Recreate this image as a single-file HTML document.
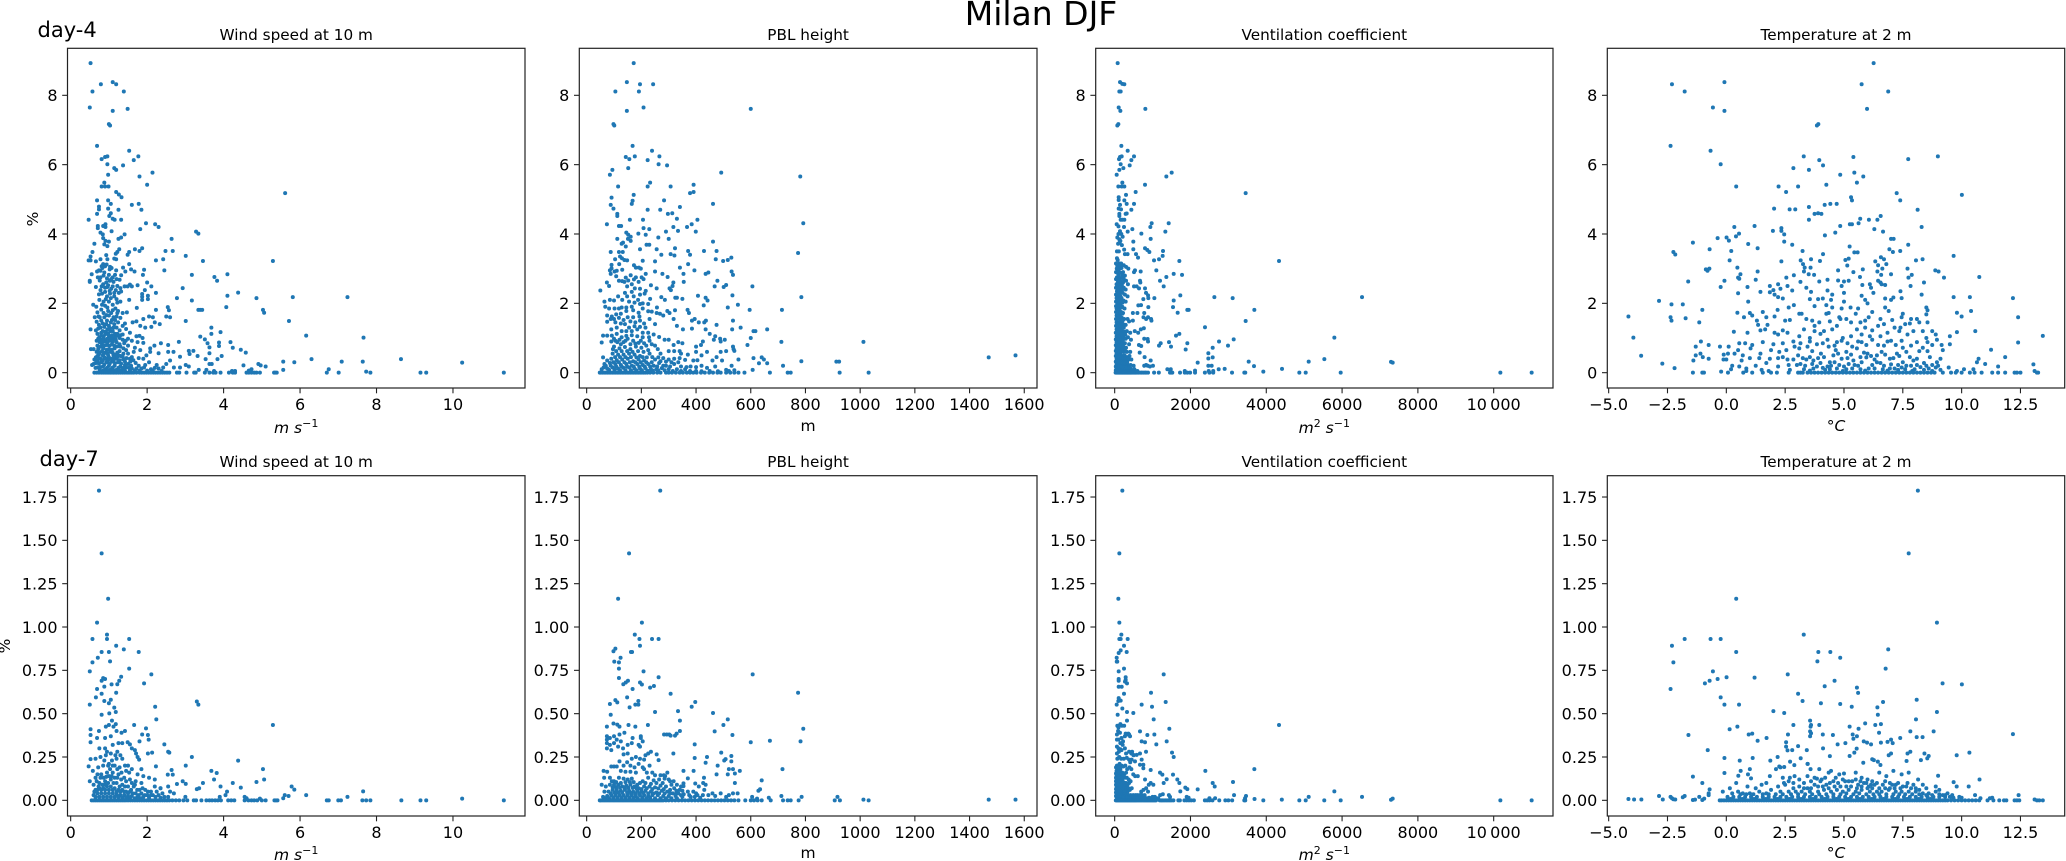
<!DOCTYPE html>
<html lang="en">
<head>
<meta charset="utf-8">
<title>Milan DJF</title>
<style>
html,body{margin:0;padding:0;background:#fff;overflow:hidden}
svg{display:block}
text{font-family:"DejaVu Sans","Liberation Sans",sans-serif;fill:#000}
.t{font-size:15.25px;text-anchor:middle}
.tick{font-size:16px}
.xl{font-size:15.5px;text-anchor:middle}
.it{font-style:italic}
</style>
</head>
<body>
<svg id="figure" xmlns="http://www.w3.org/2000/svg" width="2066" height="861" viewBox="0 0 2066 861">
<rect width="2066" height="861" fill="#fff"/>
<text x="1041" y="25" font-size="33" text-anchor="middle" fill="#1a1a1a">Milan DJF</text>
<text x="37.5" y="37" font-size="21">day-4</text>
<text x="39.5" y="466" font-size="21">day-7</text>
<text class="xl" transform="translate(38,219) rotate(-90)">%</text>
<text class="xl" transform="translate(10,646) rotate(-90)">%</text>
<text class="t" x="296.2" y="40">Wind speed at 10 m</text>
<text class="t" x="808.1" y="40">PBL height</text>
<text class="t" x="1324.3" y="40">Ventilation coefficient</text>
<text class="t" x="1836" y="40">Temperature at 2 m</text>
<text class="t" x="296.2" y="467">Wind speed at 10 m</text>
<text class="t" x="808.1" y="467">PBL height</text>
<text class="t" x="1324.3" y="467">Ventilation coefficient</text>
<text class="t" x="1836" y="467">Temperature at 2 m</text>
<text class="xl" x="296.2" y="433"><tspan class="it">m s</tspan><tspan font-size="11" dy="-6">−1</tspan></text>
<text class="xl" x="808.1" y="431">m</text>
<text class="xl" x="1324.3" y="433"><tspan class="it">m</tspan><tspan font-size="11" dy="-6">2</tspan><tspan class="it" dy="6"> s</tspan><tspan font-size="11" dy="-6">−1</tspan></text>
<text class="xl" x="1836" y="431">°<tspan class="it">C</tspan></text>
<text class="xl" x="296.2" y="860"><tspan class="it">m s</tspan><tspan font-size="11" dy="-6">−1</tspan></text>
<text class="xl" x="808.1" y="858">m</text>
<text class="xl" x="1324.3" y="860"><tspan class="it">m</tspan><tspan font-size="11" dy="-6">2</tspan><tspan class="it" dy="6"> s</tspan><tspan font-size="11" dy="-6">−1</tspan></text>
<text class="xl" x="1836" y="858">°<tspan class="it">C</tspan></text>
</svg>
<script>
// Tick values
const windTicks=[0,2,4,6,8,10];
const pblTicks=[0,200,400,600,800,1000,1200,1400,1600];
const ventTicks=[0,2000,4000,6000,8000,10000];
const tempTicks=[-5,-2.5,0,2.5,5,7.5,10,12.5];
const day4Ticks=[0,2,4,6,8];
const day7Ticks=[0,0.25,0.5,0.75,1,1.25,1.5,1.75];

// Points: [x, percent]
const windDay4=[[.52,8.93],[.57,8.11],[.79,8.32],[1.1,8.38],[1.19,8.32],[1.39,8.11],[.5,7.65],[1.1,7.55],[1.49,7.61],[1,7.17],[1.03,7.13],[.69,6.54],[1.53,6.4],[1.77,6.24],[1.65,6.13],[.96,6.24],[.9,6.22],[.81,6.16],[.96,6.01],[1.37,5.98],[1.14,5.9],[1.19,5.85],[.98,5.71],[1.8,5.66],[2.14,5.77],[2,5.42],[.88,5.48],[.81,5.37],[.9,5.37],[.99,5.37],[5.61,5.18],[1.19,5.21],[1.26,5.14],[1.33,5.06],[.69,4.97],[.98,4.97],[1.05,4.87],[1.6,4.84],[1.78,4.87],[.74,4.79],[.74,4.71],[.98,4.73],[1.25,4.7],[1.85,4.7],[.69,4.58],[1.05,4.6],[1.01,4.52],[.47,4.41],[1.1,4.44],[1.15,4.41],[1.32,4.41],[1.97,4.31],[2.21,4.28],[2.3,4.2],[.71,4.23],[.71,4.17],[.85,4.23],[.91,4.28],[.91,4.2],[1.82,4.14],[1.07,4.08],[3.28,4.07],[3.34,4.01],[.78,4.04],[.84,3.99],[1.41,3.99],[1.32,3.9],[1.25,3.86],[2.64,3.86],[.85,3.88],[.91,3.8],[1,3.78],[.62,3.72],[.88,3.7],[.96,3.65],[1.68,3.56],[1.87,3.59],[1.8,3.51],[1.27,3.56],[1.22,3.48],[1.18,3.43],[2.48,3.51],[2.67,3.51],[1.53,3.48],[1.49,3.4],[.57,3.48],[.93,3.39],[3.01,3.37],[.52,3.35],[.47,3.24],[.52,3.24],[.78,3.27],[.96,3.27],[1.14,3.29],[1.19,3.27],[2.42,3.27],[2.23,3.24],[3.46,3.22],[5.29,3.22],[.66,3.21],[1.53,3.13],[.85,3.13],[.81,3.07],[.9,3.07],[1.03,3.05],[1.07,3.02],[1.37,3.03],[1.58,2.98],[1.92,2.97],[2.45,2.95],[1.43,2.92],[1.67,2.92],[1.19,2.95],[.69,2.92],[.78,2.94],[.88,2.89],[.55,2.84],[3.17,2.82],[1.89,2.82],[4.1,2.84],[1.32,2.81],[.71,2.75],[.78,2.75],[1,2.82],[1.1,2.75],[.5,2.65],[.5,2.62],[3.76,2.76],[3.83,2.65],[2,2.6],[2.11,2.49],[1.55,2.54],[1.49,2.49],[1.41,2.49],[1.6,2.49],[1.75,2.52],[.66,2.47],[.81,2.49],[.96,2.47],[1.1,2.49],[2.93,2.44],[1.94,2.38],[2.23,2.3],[.74,2.26],[4.38,2.31],[4.1,2.22],[1.87,2.27],[2.02,2.22],[1.87,2.19],[1.87,2.1],[2.02,2.12],[2.78,2.15],[4.86,2.15],[5.81,2.18],[7.24,2.18],[1.53,2.1],[3.17,2.08],[.59,1.96],[.67,1.9],[2.54,1.89],[4.07,1.89],[1.73,1.87],[2.57,1.8],[2.23,1.81],[3.34,1.81],[3.39,1.81],[3.44,1.81],[5.03,1.81],[5.06,1.73],[1.24,1.78],[1.02,2.65],[1.12,2.62],[1.2,2.7],[1.28,2.68],[.93,2.6],[.85,2.55],[.98,2.52],[1.06,2.42],[1.18,2.38],[1.26,2.3],[1.32,2.34],[.9,2.33],[.82,2.28],[.95,2.2],[1.03,2.28],[1.14,2.2],[1.2,2.12],[1.3,2.05],[.75,2.1],[.86,2.05],[1,2.05],[1.1,1.96],[.9,1.93],[.8,1.82],[.7,1.74],[.98,1.78],[1.1,1.8],[1.22,1.72],[1.36,1.72],[1.47,1.74],[.63,1.6],[.76,1.6],[.88,1.6],[1,1.65],[1.12,1.6],[1.3,1.58],[2.5,1.62],[2.6,1.6],[2.15,1.6],[2.05,1.62],[1.9,1.55],[.68,1.47],[.8,1.5],[.95,1.5],[1.08,1.52],[1.24,1.45],[1.42,1.42],[1.62,1.45],[1.72,1.48],[2.2,1.45],[2.33,1.4],[2.11,1.32],[3.01,1.49],[1.95,1.3],[1.82,1.35],[.52,1.25],[.66,1.22],[.78,1.3],[.88,1.32],[1,1.35],[1.12,1.3],[1.28,1.22],[1.45,1.26],[1.55,1.15],[.7,1.12],[.8,1.15],[.92,1.18],[1.04,1.2],[1.16,1.12],[1.36,1.1],[1.72,1.05],[1.8,1.06],[1.88,1],[.75,1.02],[.86,1.04],[1,1.06],[1.1,.98],[1.28,1],[1.5,.98],[1.6,.92],[1.75,.88],[1.9,.86],[.68,.92],[.8,.95],[.9,.9],[1.02,.92],[1.2,.88],[1.4,.85],[.7,.78],[.82,.82],[.95,.8],[1.08,.82],[1.3,.75],[1.5,.78],[1.68,.72],[.53,.68],[.6,.68],[.72,.68],[.85,.7],[1,.68],[1.15,.7],[1.45,.65],[1.65,.6],[1.82,.65],[.76,.58],[.9,.58],[1.03,.6],[1.22,.58],[1.5,.55],[1.98,.5],[2.08,.6],[.7,.48],[.84,.5],[.98,.5],[1.12,.5],[1.3,.48],[1.6,.45],[1.78,.42],[1.9,.4],[.62,.38],[.78,.4],[.92,.4],[1.06,.4],[1.2,.4],[1.38,.38],[.56,.22],[.66,.28],[.8,.3],[.94,.3],[1.08,.32],[1.24,.3],[1.5,.25],[1.7,.28],[2.05,.3],[2.25,.22],[2.5,.25],[2.6,.35],[.7,.15],[.85,.18],[1,.2],[1.15,.2],[1.3,.18],[1.45,.15],[1.6,.12],[1.85,.12],[2.1,.1],[2.3,.12],[2.7,.15],[.9,.08],[1.05,.1],[1.2,.08],[1.35,.08],[6.75,.1],[7.09,.32],[7.64,.32],[7.73,.03],[8.64,.39],[10.24,.29],[6.3,.39],[5.85,.3],[5.56,.32],[5.56,.08],[5.1,.18],[4.97,.21],[4.91,.25],[4.73,.1],[4.52,.21],[4.58,.58],[4.45,.66],[4.24,.72],[4.18,.88],[3.92,1.17],[3.68,1.3],[3.68,1.12],[3.39,1.04],[3.51,.96],[3.58,.85],[3.63,.73],[3.88,.87],[3.88,.77],[3.95,.48],[3.84,.39],[3.63,.56],[3.53,.39],[3.63,.25],[3.69,.25],[3.32,.48],[3.21,.63],[3.09,.63],[3.11,.54],[2.83,.89],[2.86,.46],[2.69,.6],[2.55,.8],[2.55,.6],[2.36,.85],[2.19,.78],[2.08,.7],[2.3,.56],[5.71,1.49],[6.16,1.07],[7.66,1.01],[3.01,.22],[3.09,.18],[2.86,.15],[3.35,.08],[3.55,.08],[3.75,.05],[4.22,.05],[4.3,.05],[4.66,.06]];
const windDay4Dense=[[.74,2.95],[.83,3.02],[.94,3.12],[1.02,2.98],[.86,2.8],[.95,2.72],[1.06,2.7],[1.16,2.82],[.76,2.66],[.9,2.45],[1.02,2.36],[1.14,2.3],[1.22,2.5],[1.3,2.44],[.78,2.38],[.92,2.12],[1.05,2.15],[1.22,2.02],[.82,1.96],[.96,1.88],[1.06,1.72],[1.17,1.85],[.73,1.62],[.86,1.72],[.94,1.66],[1.05,1.45],[1.16,1.52],[1.2,1.62],[.74,1.38],[.84,1.42],[.93,1.4],[1.03,1.28],[1.14,1.4],[1.2,1.3],[1.36,1.35],[.72,1.27],[.84,1.2],[.96,1.25],[1.1,1.2],[1.22,1.12],[1.3,1.08],[.8,1.07],[.9,1.1],[.98,1.13],[1.08,1.08],[1.16,1.02],[1.24,1.06],[.72,.98],[.86,.97],[.96,.98],[1.04,1],[1.18,.95],[1.36,.95],[.76,.88],[.84,.9],[.96,.87],[1.1,.9],[1.28,.82],[1.44,.92],[.78,.75],[.88,.78],[1.02,.78],[1.14,.78],[1.22,.76],[1.38,.7],[.68,.6],[.82,.62],[.94,.66],[1.08,.66],[1.28,.62],[1.38,.55],[.74,.53],[.87,.55],[.96,.56],[1.1,.57],[1.18,.52],[1.25,.5],[.66,.44],[.75,.42],[.88,.44],[1,.44],[1.14,.44],[1.22,.46],[1.36,.46],[1.46,.42],[1.55,.4],[.7,.34],[.84,.35],[.98,.36],[1.12,.36],[1.28,.36],[1.42,.32],[1.56,.32],[1.64,.36],[.6,.25],[.74,.26],[.88,.24],[1.02,.26],[1.16,.27],[1.32,.26],[1.42,.22],[1.58,.2],[1.78,.2],[1.95,.22],[.65,.14],[.78,.16],[.95,.14],[1.1,.15],[1.25,.14],[1.38,.14],[1.52,.14],[1.72,.12],[1.92,.15],[2.2,.14],[2.42,.15],[.76,.07],[.85,.06],[.98,.06],[1.12,.07],[1.28,.06],[1.42,.06],[1.55,.06],[1.68,.07],[1.8,.06],[2,.06],[2.15,.05],[2.38,.05]];
const windDay4Zero=[.62,.68,.74,.8,.85,.9,.95,1,1.04,1.08,1.12,1.16,1.2,1.25,1.3,1.35,1.4,1.45,1.5,1.55,1.6,1.65,1.72,1.8,1.86,1.92,1.98,2.04,2.1,2.16,2.22,2.28,2.34,2.4,2.46,2.52,2.58,2.78,2.84,3.03,3.23,3.27,3.51,3.63,3.73,3.79,3.92,4.14,4.24,4.3,4.6,4.66,4.73,4.8,4.86,4.95,5.32,5.35,5.39,6.7,7.01,7.84,9.15,9.3,11.33];

const pblDay4=[[172,8.93],[147,8.38],[195,8.32],[243,8.32],[105,8.11],[191,8.11],[208,7.65],[147,7.55],[600,7.61],[98,7.17],[101,7.13],[168,6.54],[239,6.4],[143,6.22],[176,6.24],[266,6.24],[156,6.16],[223,6.13],[263,6.01],[294,5.98],[152,5.9],[94,5.85],[492,5.77],[85,5.71],[781,5.66],[391,5.42],[115,5.37],[223,5.37],[232,5.48],[307,5.37],[378,5.18],[391,5.21],[172,5.13],[91,5.05],[283,4.97],[168,4.96],[165,4.87],[88,4.84],[462,4.87],[341,4.78],[98,4.73],[223,4.7],[269,4.7],[112,4.58],[112,4.52],[313,4.6],[297,4.58],[330,4.44],[206,4.41],[158,4.41],[405,4.41],[792,4.31],[74,4.28],[384,4.28],[118,4.23],[126,4.23],[317,4.2],[367,4.2],[208,4.17],[229,4.14],[290,4.07],[334,4.09],[399,4.07],[189,4.01],[216,3.98],[145,4.04],[152,3.98],[262,3.9],[161,3.92],[112,3.86],[300,3.86],[151,3.86],[161,3.8],[462,3.78],[133,3.75],[128,3.72],[219,3.69],[229,3.69],[143,3.64],[323,3.59],[195,3.56],[256,3.56],[429,3.51],[475,3.51],[371,3.51],[88,3.48],[118,3.48],[132,3.48],[307,3.42],[273,3.4],[321,3.38],[378,3.4],[773,3.45],[104,3.27],[122,3.35],[129,3.3],[138,3.25],[148,3.24],[205,3.23],[250,3.21],[472,3.27],[499,3.22],[516,3.25],[529,3.32],[371,3.13],[91,3.11],[119,3.13],[91,3.01],[341,3.03],[173,3.1],[180,3.03],[191,3.03],[198,3],[250,2.92],[394,2.95],[530,2.92],[110,2.94],[130,2.97],[102,2.92],[88,2.85],[354,2.85],[277,2.85],[435,2.85],[445,2.89],[535,2.82],[216,2.85],[296,2.76],[143,2.74],[161,2.81],[180,2.75],[201,2.75],[173,2.69],[130,2.64],[118,2.65],[138,2.62],[478,2.65],[355,2.62],[317,2.6],[314,2.5],[303,2.43],[308,2.38],[74,2.6],[82,2.5],[50,2.37],[468,2.49],[510,2.53],[501,2.47],[606,2.49],[235,2.52],[256,2.43],[148,2.49],[176,2.43],[216,2.36],[533,2.23],[407,2.22],[273,2.18],[785,2.18],[324,2.16],[330,2.16],[350,2.13],[435,2.16],[442,2.08],[232,2.13],[286,2.1],[553,1.96],[428,1.94],[257,1.88],[516,1.88],[596,1.81],[714,1.81],[369,1.81],[323,1.8],[295,1.78],[374,1.72],[303,1.72],[268,1.7],[280,1.65],[256,1.72],[225,1.77],[238,1.76],[190,1.73],[170,1.8],[193,1.62],[170,1.6],[150,1.6],[125,1.7],[108,1.68],[92,1.62],[75,1.65],[65,2.05],[85,2.1],[100,2.08],[130,2.1],[155,2.05],[115,2.2],[148,2.2],[172,2.2],[195,2.25],[188,2.1],[205,2],[225,1.98],[68,1.9],[82,1.85],[102,1.85],[128,1.88],[145,1.88],[165,1.9],[205,1.85],[75,1.47],[88,1.55],[105,1.45],[125,1.42],[140,1.4],[160,1.48],[178,1.45],[195,1.5],[210,1.42],[230,1.55],[250,1.4],[318,1.55],[330,1.35],[385,1.5],[395,1.55],[410,1.45],[430,1.45],[436,1.5],[475,1.38],[535,1.5],[563,1.3],[60,1.07],[75,1.07],[92,1.07],[110,1.12],[128,1.2],[145,1.2],[165,1.2],[185,1.25],[205,1.15],[225,1.15],[245,1.1],[265,1.03],[352,1.25],[385,1.27],[435,1.25],[450,1.12],[470,1.05],[532,1.25],[660,1.25],[617,1.2],[610,1.2],[600,1],[588,.8],[712,.89],[1012,.89],[55,.87],[90,.9],[105,.92],[120,.95],[135,.88],[150,.98],[170,.92],[190,.86],[210,.85],[230,.92],[250,.78],[285,.95],[300,.95],[318,.8],[335,.88],[350,.85],[400,.75],[418,.8],[465,.95],[488,.98],[505,.95],[490,.9],[535,.75],[537,.68],[540,.63],[425,.9],[100,.75],[120,.7],[140,.74],[160,.68],[180,.75],[200,.72],[225,.65],[260,.68],[300,.62],[320,.62],[340,.62],[400,.6],[440,.6],[490,.6],[510,.62],[95,.55],[115,.52],[135,.52],[155,.55],[175,.52],[195,.48],[220,.44],[240,.45],[345,.55],[370,.52],[420,.5],[475,.45],[60,.44],[90,.4],[110,.36],[130,.38],[150,.4],[170,.33],[190,.38],[210,.35],[250,.38],[270,.33],[300,.38],[340,.42],[360,.37],[390,.35],[405,.36],[460,.35],[495,.35],[555,.38],[610,.42],[640,.44],[648,.38],[630,.27],[660,.27],[718,.2],[785,.33],[913,.32],[923,.32],[1470,.44],[1568,.5],[65,.25],[85,.28],[105,.25],[125,.22],[145,.25],[165,.2],[185,.25],[205,.22],[225,.25],[245,.2],[265,.28],[290,.2],[320,.25],[380,.18],[420,.2],[470,.18],[530,.2],[607,.08],[55,.1],[75,.12],[95,.15],[115,.12],[135,.14],[155,.15],[175,.12],[195,.12],[215,.13],[235,.1],[255,.1],[275,.13],[300,.1],[330,.1],[360,.1],[400,.05],[450,.05],[510,.08],[540,.07]];
const pblDay4Dense=[[85,2.95],[108,2.78],[152,2.66],[165,2.55],[190,2.62],[208,2.7],[195,2.42],[212,2.28],[165,2.33],[140,2.3],[175,2.02],[195,1.98],[145,1.78],[118,1.85],[100,1.55],[118,1.58],[135,1.52],[155,1.3],[175,1.34],[195,1.32],[215,1.3],[90,1.25],[110,1.3],[128,1.02],[145,1.06],[165,1.08],[185,1.05],[205,1.02],[228,1.02],[100,.98],[112,.88],[125,.82],[142,.92],[160,.82],[178,.84],[198,.92],[218,.78],[238,.82],[96,.68],[108,.62],[128,.62],[148,.62],[168,.6],[188,.62],[208,.6],[230,.55],[270,.55],[104,.45],[122,.45],[142,.45],[162,.45],[182,.44],[205,.45],[262,.44],[280,.42],[320,.4],[75,.35],[98,.3],[118,.3],[138,.3],[158,.3],[178,.3],[198,.3],[218,.3],[238,.3],[290,.32],[310,.3],[335,.3],[70,.2],[88,.2],[108,.18],[128,.18],[148,.18],[172,.18],[192,.18],[212,.18],[232,.18],[258,.18],[280,.2],[305,.18],[345,.18],[365,.16],[400,.16],[440,.14],[62,.15],[82,.08],[102,.08],[122,.07],[142,.07],[162,.07],[182,.07],[202,.07],[222,.06],[242,.06],[262,.07],[285,.07],[315,.05],[345,.05],[378,.05],[420,.04],[480,.04],[520,.05]];
const pblDay4Zero=[48,52,58,64,70,76,82,88,94,100,106,112,118,124,130,136,142,148,154,160,166,172,178,184,190,196,202,208,214,222,232,244,258,270,290,300,312,326,340,352,366,378,390,402,418,432,448,462,478,490,510,525,540,555,577,670,735,746,925,1031];

const ventDay4=[[79,8.93],[141,8.38],[202,8.33],[255,8.32],[123,8.11],[158,8.11],[106,7.65],[150,7.55],[809,7.61],[97,7.17],[70,7.13],[176,6.54],[343,6.4],[510,6.24],[185,6.24],[141,6.22],[114,6.16],[440,6.13],[158,6.01],[396,5.98],[229,5.9],[123,5.85],[53,5.71],[1504,5.77],[1363,5.66],[800,5.42],[202,5.48],[97,5.37],[185,5.37],[255,5.37],[3456,5.18],[554,5.21],[299,5.13],[106,5.06],[106,4.98],[255,4.97],[510,4.87],[317,4.87],[141,4.84],[106,4.73],[167,4.71],[440,4.7],[317,4.59],[290,4.58],[123,4.58],[123,4.52],[255,4.41],[158,4.41],[200,4.41],[976,4.31],[941,4.2],[1425,4.31],[53,4.28],[246,4.2],[100,4.22],[466,4.14],[343,4.07],[1337,4.07],[704,4.01],[950,3.86],[492,3.78],[800,3.59],[1275,3.51],[862,3.54],[915,3.48],[492,3.56],[563,3.42],[616,3.32],[1266,3.37],[1038,3.24],[1170,3.27],[1706,3.22],[4336,3.22],[1099,2.95],[686,2.92],[510,2.9],[536,2.95],[1557,2.85],[1777,2.82],[1363,2.76],[1196,2.65],[668,2.65],[677,2.6],[1293,2.49],[510,2.49],[580,2.49],[642,2.43],[800,2.43],[827,2.3],[880,2.23],[1732,2.23],[2630,2.18],[3113,2.15],[6526,2.18],[1047,2.15],[756,2.12],[888,2.15],[1557,2.08],[3685,1.81],[1917,1.81],[1952,1.81],[1539,1.89],[888,1.89],[1662,1.73],[624,1.94],[695,1.95],[3456,1.49],[2383,1.31],[5796,1.01],[1706,1.12],[1618,1.07],[3140,.96],[2753,.9],[2990,.78],[2586,.72],[1917,.85],[1873,.67],[1433,.88],[1486,.75],[1214,.85],[1170,.78],[2471,.56],[2471,.41],[2586,.44],[5119,.32],[5532,.39],[7291,.31],[7335,.29],[3536,.32],[2190,.29],[3676,.19],[2471,.2],[2559,.2],[2744,.1],[2902,.11],[4415,.11],[3922,.03],[70,3.9],[100,4],[140,4.08],[175,4],[120,3.85],[150,3.8],[210,3.92],[90,3.72],[130,3.75],[190,3.68],[250,3.55],[60,3.5],[110,3.5],[270,3.42],[340,3.42],[60,3.3],[80,3.25],[120,3.15],[170,3.15],[240,3.1],[300,3.05],[360,3],[55,3],[90,2.95],[130,3],[180,3.02],[220,2.9],[270,2.8],[60,2.75],[100,2.8],[150,2.72],[200,2.78],[240,2.7],[300,2.65],[350,2.55],[50,2.55],[85,2.6],[130,2.55],[190,2.52],[240,2.45],[290,2.4],[60,2.35],[100,2.42],[160,2.35],[210,2.3],[270,2.25],[340,2.2],[50,2.15],[90,2.2],[130,2.12],[180,2.15],[230,2.08],[290,2.05],[70,2],[110,2.02],[150,1.95],[200,1.9],[260,1.85],[50,1.85],[80,1.8],[120,1.82],[170,1.75],[220,1.72],[50,1.65],[90,1.65],[140,1.62],[190,1.58],[250,1.55],[340,1.55],[480,1.72],[600,1.72],[830,1.55],[780,1.72],[760,1.6],[880,1.6],[970,1.5],[50,1.45],[80,1.42],[120,1.45],[165,1.4],[220,1.4],[290,1.38],[380,1.48],[480,1.5],[960,1.55],[620,1.15],[770,1.28],[690,1.25],[50,1.25],[75,1.22],[110,1.25],[150,1.22],[200,1.2],[250,1.18],[320,1.2],[410,1.15],[530,1.2],[50,1.05],[80,1.05],[110,1.08],[145,1.02],[190,1],[240,1.02],[290,.98],[350,1.02],[430,.95],[870,.97],[780,.98],[50,.88],[80,.9],[115,.9],[150,.85],[200,.82],[270,.85],[380,.82],[640,.8],[700,.77],[50,.7],[80,.72],[115,.72],[150,.68],[200,.66],[250,.7],[320,.6],[410,.6],[880,.9],[50,.55],[80,.55],[115,.52],[150,.52],[200,.48],[260,.5],[320,.45],[390,.48],[660,.58],[50,.4],[80,.38],[115,.4],[150,.36],[190,.35],[250,.32],[310,.35],[370,.38],[440,.38],[790,.45],[950,.35],[50,.25],[80,.25],[115,.22],[150,.25],[190,.2],[240,.22],[290,.2],[350,.22],[420,.22],[500,.2],[50,.12],[85,.12],[120,.1],[160,.14],[200,.1],[250,.1],[300,.1],[360,.1],[420,.12],[520,.1],[600,.05],[780,.2],[830,.22],[870,.2],[930,.18],[1010,.2],[1390,.1],[1480,.1],[1470,.05],[1850,.05],[2120,.06],[2480,.05],[2600,.05]];
const ventDay4Dense=[[35,3.15],[70,3.08],[105,3.05],[150,3.1],[35,2.9],[75,2.88],[115,2.9],[160,2.88],[205,2.85],[35,2.7],[75,2.68],[125,2.66],[170,2.62],[220,2.6],[35,2.45],[70,2.48],[110,2.4],[150,2.45],[200,2.4],[35,2.25],[75,2.28],[120,2.28],[155,2.2],[35,2.05],[70,2.08],[110,2.1],[170,2.05],[205,2.02],[35,1.92],[85,1.92],[125,1.92],[175,1.88],[35,1.75],[70,1.72],[105,1.74],[150,1.72],[200,1.7],[35,1.55],[70,1.55],[110,1.58],[160,1.5],[210,1.5],[35,1.35],[70,1.32],[105,1.35],[140,1.32],[185,1.3],[240,1.3],[30,1.15],[65,1.14],[95,1.16],[130,1.15],[170,1.12],[215,1.1],[280,1.1],[30,.96],[65,.97],[95,.98],[130,.97],[170,.94],[215,.92],[30,.79],[65,.8],[95,.8],[130,.8],[170,.77],[225,.76],[300,.72],[30,.63],[65,.64],[95,.64],[130,.6],[170,.6],[225,.6],[280,.62],[30,.48],[65,.47],[95,.46],[130,.45],[170,.44],[225,.42],[280,.42],[350,.4],[30,.32],[65,.32],[95,.32],[130,.3],[170,.28],[215,.28],[270,.28],[330,.3],[30,.18],[65,.18],[95,.16],[130,.18],[170,.17],[215,.16],[265,.16],[320,.15],[390,.16],[30,.07],[65,.06],[100,.05],[140,.06],[180,.05],[225,.05],[275,.05],[330,.05],[395,.05],[460,.06]];
const ventDay4Zero=[25,45,65,85,105,125,145,165,185,205,225,245,265,285,305,325,345,365,385,405,425,445,470,500,520,550,570,610,640,690,720,760,800,830,880,1040,1165,1460,1490,1520,1724,1850,1917,1990,2120,2380,2500,2600,3096,3421,3445,4872,5040,5963,10176,11002];

const tempDay4=[[6.26,8.93],[-.08,8.38],[-2.31,8.32],[5.75,8.32],[-1.77,8.11],[6.88,8.11],[-.57,7.65],[-.08,7.55],[5.98,7.61],[3.91,7.17],[3.85,7.13],[-2.37,6.54],[-.67,6.4],[3.29,6.24],[5.4,6.22],[8.99,6.24],[3.95,6.13],[7.73,6.16],[-.24,6.01],[4.11,5.98],[2.85,5.9],[3.51,5.85],[4.84,5.71],[5.44,5.77],[5.82,5.66],[4.25,5.42],[5.55,5.48],[.42,5.37],[2.22,5.37],[3.05,5.37],[7.24,5.18],[2.54,5.21],[10.01,5.13],[5.3,5.06],[5.34,4.97],[7.39,4.97],[3.51,4.78],[4.18,4.84],[4.42,4.87],[4.69,4.87],[2.03,4.73],[2.69,4.71],[2.93,4.71],[8.13,4.7],[3.75,4.58],[3.9,4.6],[4.04,4.58],[6.56,4.52],[3.51,4.41],[5.69,4.44],[6.06,4.41],[6.42,4.41],[5.25,4.28],[5.34,4.28],[5.62,4.31],[4.84,4.23],[1.2,4.23],[.34,4.2],[2.34,4.17],[8.3,4.2],[6.29,4.14],[1.98,4.09],[2.34,4.09],[2.46,3.99],[4.63,4.04],[4.19,3.96],[6.66,4.07],[.54,4.01],[.41,3.93],[-.37,3.88],[.01,3.9],[.11,3.81],[-1.42,3.75],[.93,3.71],[7,3.86],[7.11,3.86],[2.46,3.78],[2.8,3.69],[7.73,3.69],[5.24,3.64],[-.71,3.56],[1.33,3.59],[.21,3.51],[3.24,3.51],[5.44,3.47],[5.58,3.47],[6.93,3.56],[7.08,3.48],[7.39,3.51],[-2.25,3.48],[-2.17,3.41],[4.11,3.42],[9.66,3.37],[6.57,3.33],[6.7,3.27],[.14,3.24],[2.34,3.21],[3.16,3.24],[3.6,3.27],[3.98,3.22],[5.06,3.25],[5.2,3.29],[8.06,3.24],[8.34,3.27],[6.33,3.21],[.47,3.03],[3.26,3.13],[3.33,3.03],[3.58,3.03],[5.14,3.09],[7.7,3],[6.45,3.1],[6.63,3],[6.8,3.13],[-.87,2.98],[-.8,2.94],[-.72,3],[1.33,2.92],[3.3,2.92],[4.75,2.95],[5.4,2.9],[5.8,2.98],[6.42,2.92],[8.88,2.95],[9.02,2.92],[.6,2.84],[2.87,2.81],[3.5,2.84],[3.73,2.82],[5.68,2.76],[6.58,2.82],[7,2.84],[7.74,2.74],[7.88,2.82],[9.25,2.74],[10.75,2.76],[.5,2.74],[.55,2.71],[2.55,2.74],[1.25,2.68],[-1.62,2.63],[-.08,2.65],[3.15,2.62],[3.95,2.63],[4.3,2.68],[4.75,2.66],[5,2.63],[5.2,2.65],[6.45,2.65],[6.55,2.6],[8.4,2.6],[6.6,2.55],[6.75,2.53],[-.24,2.47],[.9,2.47],[1.85,2.5],[2.2,2.55],[2.6,2.5],[3.4,2.45],[4.9,2.5],[5.78,2.53],[6.1,2.55],[6.15,2.45],[7.83,2.5],[2,2.38],[2.3,2.42],[2.8,2.37],[3.6,2.33],[4.3,2.37],[5,2.3],[7.4,2.35],[.5,2.29],[1.45,2.33],[1.85,2.32],[2.05,2.25],[2.2,2.18],[2.4,2.14],[3.55,2.12],[3.9,2.12],[4.1,2.14],[4.5,2.25],[5.75,2.22],[5.9,2.1],[6.25,2.3],[6.75,2.14],[7,2.1],[7.1,2.17],[7.45,2.15],[8.3,2.25],[9.66,2.18],[10.35,2.18],[12.18,2.15],[-2.86,2.07],[-2.33,1.97],[-1.85,1.97],[.93,2.05],[4.45,2.1],[5,2.05],[6,2],[-1.02,1.81],[1.55,1.75],[2.18,1.81],[2.65,1.88],[2.87,1.95],[3.75,1.92],[4.25,1.95],[4.5,1.88],[4.9,1.85],[5.28,1.88],[5.6,1.85],[6.75,1.88],[6.9,1.78],[7.5,1.7],[8.5,1.88],[8.55,1.8],[10.4,1.78],[.47,1.73],[1,1.72],[1.1,1.65],[1.7,1.6],[2.05,1.62],[3.1,1.7],[3.2,1.7],[4.25,1.7],[4.8,1.6],[5.5,1.7],[6.2,1.75],[7.45,1.6],[7.85,1.55],[8.1,1.55],[8.5,1.68],[9.8,1.73],[10,1.62],[12.4,1.6],[-4.16,1.62],[-2.37,1.6],[-2.33,1.5],[-1.73,1.57],[.75,1.6],[1.3,1.5],[2.5,1.5],[2.7,1.52],[3.4,1.55],[3.65,1.5],[4.4,1.48],[4.85,1.55],[5.3,1.45],[5.9,1.5],[6.55,1.55],[7.05,1.52],[7.8,1.42],[8.2,1.45],[8.55,1.45],[-1.15,1.45],[1.35,1.38],[1.75,1.38],[3.75,1.35],[4.7,1.35],[5.9,1.3],[6.45,1.35],[7.4,1.3],[1.45,1.22],[1.65,1.25],[2.6,1.15],[3.75,1.2],[4.15,1.2],[4.5,1.25],[5.55,1.25],[6.2,1.22],[6.85,1.15],[7.35,1.2],[7.95,1.2],[8.75,1.2],[9.8,1.17],[10.58,1.2],[.32,1.18],[.9,1.15],[-3.95,1.01],[13.45,1.06],[2.2,1.1],[3.1,1.05],[3.55,1],[4,1.12],[4.95,1],[5.3,1.05],[5.75,1.1],[6.1,1.05],[6.55,1.05],[7.7,1.1],[8.5,1],[8.95,.95],[9.5,1.05],[12.4,.87],[-1.3,.75],[-1.08,.9],[-.75,.8],[-.27,.75],[.1,.75],[.55,.85],[.8,.85],[1.1,.8],[1.55,.88],[2,.82],[2.4,.85],[2.85,.9],[3.55,.9],[4.3,.95],[4.7,.88],[5.15,.85],[5.75,.88],[6.45,.8],[7,.92],[7.45,.92],[8.1,.88],[8.55,.88],[9.15,.8],[9.5,.82],[-3.62,.49],[-2.2,.13],[-2.72,.26],[-1.4,.35],[-1.3,.5],[-1.1,.55],[-1,.45],[-.75,.4],[-.11,.52],[0,.38],[.07,.55],[.35,.55],[.5,.65],[.7,.5],[1.03,.7],[1.45,.55],[1.9,.65],[2.25,.6],[2.55,.65],[3.1,.7],[3.45,.75],[4.02,.55],[4.35,.75],[4.65,.65],[5.1,.6],[5.55,.7],[6,.55],[6.6,.6],[7.25,.55],[7.65,.6],[8.2,.62],[8.55,.62],[9.2,.65],[11.25,.66],[-.12,.38],[.25,.2],[.65,.35],[1,.42],[1.4,.42],[1.85,.4],[2.4,.45],[2.85,.38],[3.4,.38],[3.7,.35],[4.4,.3],[4.9,.4],[5.4,.35],[5.95,.44],[6.4,.5],[6.95,.4],[7.5,.3],[7.95,.35],[8.4,.28],[8.95,.3],[10.72,.4],[10.65,.3],[11.85,.45],[-.22,.03],[.2,.1],[.55,.18],[.85,.12],[1.25,.2],[1.7,.28],[2.2,.18],[2.65,.22],[3.15,.25],[3.85,.18],[4.45,.2],[5,.18],[5.6,.2],[6.05,.12],[6.55,.28],[7.15,.12],[7.65,.2],[8.25,.16],[8.9,.15],[9.45,.15],[10.5,.1],[11,.25],[11.55,.18],[13.05,.24],[13.1,.05],[.85,.05],[1.5,.08],[1.8,.05],[2.7,.08],[3.55,.06],[4.2,.08],[4.95,.05],[5.9,.06],[6.85,.06],[7.9,.05],[8.75,.05],[9.8,.05],[10.1,.1]];
const tempDay4Dense=[[2.05,1.15],[2.4,1.22],[3.3,1.25],[3.95,1.45],[4.35,1.72],[5.1,1.55],[5.7,1.45],[6.05,1.6],[6.7,1.4],[7.15,1.3],[7.6,1.4],[8.35,1.2],[8.9,1.1],[2.9,.75],[3.15,.85],[3.65,.62],[3.85,.82],[4.1,.85],[4.6,.78],[4.9,.92],[5.35,.75],[5.6,.9],[5.95,.8],[6.2,.95],[6.7,.78],[6.85,.9],[7.2,.8],[7.5,.72],[7.85,.78],[8.35,.72],[8.75,.8],[2.2,.42],[2.6,.38],[3.05,.5],[3.25,.42],[3.55,.45],[3.9,.42],[4.15,.45],[4.55,.5],[4.75,.55],[5.15,.42],[5.3,.52],[5.7,.45],[5.85,.58],[6.15,.48],[6.3,.38],[6.75,.52],[7.1,.42],[7.35,.48],[7.8,.45],[8.1,.4],[8.65,.45],[9.1,.4],[3,.22],[3.35,.2],[3.65,.25],[4,.28],[4.3,.18],[4.6,.3],[4.8,.22],[5.2,.25],[5.45,.22],[5.75,.3],[6.2,.22],[6.4,.3],[6.7,.2],[7,.24],[7.3,.22],[7.45,.15],[7.85,.2],[8.1,.22],[8.5,.2],[8.75,.22],[9,.2],[3.3,.1],[3.7,.12],[4.1,.14],[4.4,.1],[4.7,.12],[5.1,.1],[5.35,.12],[5.7,.1],[6.3,.12],[6.65,.1],[6.95,.12],[7.3,.08],[7.6,.1],[8,.1],[8.4,.08],[8.6,.12],[9.1,.08]];
const tempDay4Zero=[-1.42,-1.02,-.95,.07,.72,1.1,1.55,1.9,2.15,2.65,3.05,3.15,3.25,3.45,3.6,3.75,3.9,4.05,4.2,4.35,4.5,4.65,4.8,4.95,5.1,5.25,5.4,5.55,5.7,5.85,6,6.15,6.3,6.45,6.6,6.75,6.9,7.05,7.2,7.35,7.5,7.65,7.8,7.95,8.1,8.25,8.4,8.55,8.7,8.85,9.2,9.55,9.75,10,10.35,10.55,10.85,11.3,11.55,11.85,12.25,12.35,12.5,13.25,13.2];

const windDay7=[[.74,1.787],[.81,1.425],[.98,1.163],[.69,1.025],[.95,.956],[.95,.931],[.57,.931],[1.53,.931],[1.19,.892],[1.39,.871],[.81,.856],[1,.856],[1.78,.856],[.71,.823],[.57,.796],[1.03,.802],[.5,.744],[1.53,.76],[2.11,.727],[1.32,.713],[.81,.69],[.85,.705],[.9,.7],[1.27,.69],[1.22,.67],[1.07,.669],[1.92,.675],[.88,.656],[.69,.642],[.81,.615],[1.19,.621],[.66,.594],[.88,.573],[1.05,.58],[1,.56],[.5,.552],[3.3,.57],[3.34,.552],[2.21,.54],[1.14,.535],[1.18,.51],[1.01,.502],[.81,.494],[2.24,.467],[1.08,.46],[5.29,.435],[1.66,.435],[1.18,.44],[1,.435],[.92,.425],[1.12,.425],[1.97,.415],[.52,.41],[.52,.377],[.74,.4],[1.2,.4],[1.33,.39],[1.42,.4],[1.87,.38],[2.02,.377],[2.04,.35],[.69,.36],[.52,.335],[1.8,.34],[2.45,.323],[1.49,.335],[1.55,.323],[1.6,.3],[1.68,.29],[1.71,.27],[1.75,.25],[1.79,.235],[2.55,.28],[2.58,.275],[2.02,.27],[2.13,.275],[.52,.238],[3.17,.25],[4.38,.229],[.47,.196],[2.23,.196],[3.01,.2],[5.03,.18],[1.85,.18],[3.68,.17],[2.64,.175],[3.82,.158],[2.54,.148],[2.67,.148],[5.06,.12],[3.75,.12],[2.93,.11],[3.01,.095],[4.86,.106],[4.24,.1],[2.78,.094],[3.46,.1],[3.92,.08],[4.45,.073],[5.78,.08],[5.85,.062],[3.36,.07],[3.3,.065],[2.35,.07],[2.55,.08],[4.09,.05],[4.05,.03],[7.65,.052],[6.16,.03],[7.24,.02],[10.24,.01],[5.56,.012],[5.7,.025],[5.6,.03],[.9,.36],[1.05,.37],[1.25,.33],[.75,.3],[.9,.3],[1.1,.32],[1.22,.28],[1.35,.33],[.65,.24],[.78,.25],[.92,.26],[1.05,.27],[1.2,.24],[1.35,.24],[1.5,.2],[1.6,.18],[.58,.17],[.72,.19],[.85,.2],[1,.21],[1.15,.2],[1.28,.19],[1.45,.17],[1.75,.15],[1.9,.14],[2.05,.13],[2.2,.12],[.5,.11],[.65,.13],[.8,.15],[.95,.16],[1.1,.16],[1.25,.15],[1.4,.13],[1.55,.12],[1.7,.11],[1.85,.1],[2.2,.08],[2.35,.07],[2.6,.05],[2.7,.04],[.6,.09],[.75,.1],[.9,.11],[1.05,.12],[1.2,.1],[1.35,.09],[1.5,.08],[1.65,.08],[1.8,.06],[1.95,.06],[2.1,.05],[2.4,.04],[.65,.06],[.75,.07],[.85,.07],[.95,.08],[1.05,.08],[1.15,.07],[1.25,.06],[1.35,.06],[1.45,.05],[1.55,.05],[1.7,.04],[1.85,.04],[2,.03],[2.15,.03],[2.3,.03],[2.45,.02],[.6,.03],[.7,.04],[.8,.04],[.9,.04],[1,.04],[1.1,.04],[1.2,.035],[1.3,.03],[1.4,.03],[1.5,.025],[1.6,.025],[1.75,.02],[1.9,.02],[2.05,.015],[3,.02],[3.9,.02],[4.55,.02],[4.6,.012],[4.95,.01]];
const windDay7Dense=[[.95,.28],[1.08,.23],[1.17,.26],[1.3,.26],[.88,.23],[.98,.2],[1.03,.18],[1.1,.2],[1.22,.18],[1.33,.16],[1.42,.2],[1.53,.16],[.7,.15],[.78,.13],[.86,.13],[.93,.135],[1,.14],[1.07,.14],[1.15,.13],[1.22,.13],[1.32,.12],[1.45,.11],[1.6,.1],[1.68,.09],[.68,.11],[.73,.08],[.83,.09],[.9,.09],[.98,.1],[1.12,.1],[1.28,.08],[1.42,.08],[1.58,.06],[1.74,.06],[1.88,.07],[2.02,.05],[2.25,.05],[.62,.05],[.7,.06],[.8,.06],[.9,.06],[1,.06],[1.1,.06],[1.2,.05],[1.3,.05],[1.4,.05],[1.5,.04],[1.62,.04],[1.78,.03],[1.94,.03],[2.1,.03],[2.22,.02],[2.35,.015],[2.55,.02],[.65,.02],[.75,.02],[.85,.02],[.95,.02],[1.05,.02],[1.15,.02],[1.25,.02],[1.35,.015],[1.45,.015],[1.55,.012],[1.68,.012],[1.82,.012]];
const windDay7Zero=[.55,.6,.65,.7,.75,.8,.85,.9,.95,1,1.05,1.1,1.15,1.2,1.25,1.3,1.35,1.4,1.45,1.5,1.56,1.62,1.68,1.74,1.8,1.86,1.92,1.98,2.04,2.1,2.16,2.22,2.28,2.34,2.4,2.46,2.52,2.58,2.66,2.75,2.84,2.95,3.05,3.22,3.28,3.42,3.55,3.63,3.7,3.78,3.85,3.93,4.12,4.2,4.28,4.55,4.65,4.73,4.8,4.88,5,5.1,5.33,5.37,5.41,6.7,6.75,7,7.07,7.63,7.73,7.84,8.65,9.15,9.3,11.33];

const pblDay7=[[269,1.787],[155,1.425],[115,1.163],[202,1.025],[176,.956],[193,.931],[239,.931],[263,.931],[195,.892],[98,.86],[105,.875],[162,.856],[166,.856],[124,.823],[101,.8],[118,.796],[118,.76],[208,.744],[607,.727],[118,.706],[263,.71],[151,.69],[143,.68],[134,.67],[195,.68],[202,.668],[246,.66],[232,.65],[168,.642],[307,.615],[773,.621],[148,.594],[85,.556],[105,.578],[112,.565],[189,.573],[178,.552],[189,.552],[157,.536],[397,.567],[384,.54],[250,.51],[334,.515],[462,.504],[88,.494],[516,.467],[341,.46],[500,.435],[74,.425],[98,.443],[112,.437],[120,.425],[153,.435],[178,.425],[224,.435],[792,.413],[468,.398],[341,.4],[329,.385],[323,.373],[283,.38],[293,.38],[302,.38],[307,.373],[533,.377],[74,.37],[74,.35],[74,.33],[85,.36],[100,.37],[120,.38],[138,.39],[110,.35],[125,.34],[100,.33],[85,.32],[74,.3],[90,.29],[115,.31],[133,.3],[150,.32],[165,.33],[198,.37],[198,.36],[168,.36],[205,.34],[190,.32],[195,.31],[395,.323],[600,.335],[670,.344],[782,.34],[492,.275],[440,.25],[529,.256],[395,.244],[317,.27],[256,.265],[263,.232],[435,.217],[503,.23],[508,.238],[529,.225],[479,.2],[716,.18],[560,.17],[354,.17],[391,.17],[520,.18],[535,.18],[475,.15],[516,.15],[542,.155],[640,.115],[429,.13],[542,.1],[370,.127],[426,.1],[435,.09],[354,.098],[354,.082],[397,.097],[410,.08],[634,.064],[628,.055],[786,.02],[712,.025],[917,.02],[1012,.004],[1470,.004],[1568,.004],[135,.265],[150,.27],[165,.24],[180,.25],[195,.24],[210,.235],[225,.27],[235,.28],[215,.26],[120,.225],[135,.2],[148,.22],[160,.2],[175,.19],[190,.21],[205,.19],[220,.16],[230,.2],[62,.17],[75,.165],[90,.195],[100,.195],[110,.195],[125,.17],[142,.165],[160,.165],[180,.16],[210,.18],[240,.16],[250,.145],[270,.145],[282,.145],[295,.16],[287,.14],[305,.11],[318,.11],[330,.09],[64,.13],[85,.13],[100,.11],[118,.13],[135,.125],[150,.12],[165,.125],[185,.09],[205,.11],[225,.13],[245,.115],[265,.12],[285,.125],[300,.12],[345,.08],[55,.09],[70,.08],[85,.09],[100,.09],[115,.09],[130,.08],[145,.085],[160,.09],[175,.08],[190,.07],[210,.08],[230,.08],[250,.075],[270,.085],[290,.08],[320,.07],[340,.06],[370,.05],[390,.05],[430,.06],[460,.04],[490,.04],[65,.05],[80,.05],[95,.06],[110,.06],[125,.055],[140,.06],[155,.055],[170,.05],[185,.055],[200,.05],[215,.055],[235,.05],[255,.045],[275,.055],[295,.05],[315,.04],[335,.04],[355,.035],[375,.03],[405,.03],[425,.03],[445,.03],[470,.025],[520,.03],[535,.04],[552,.04],[60,.02],[75,.025],[90,.03],[105,.03],[120,.03],[135,.03],[150,.03],[165,.03],[180,.025],[195,.03],[210,.03],[225,.025],[240,.03],[260,.03],[280,.025],[300,.025],[325,.025],[350,.02],[395,.02],[415,.015],[510,.02],[605,.02],[666,.015],[623,.01]];
const pblDay7Dense=[[92,.11],[108,.105],[125,.1],[142,.105],[158,.105],[172,.105],[195,.1],[215,.1],[235,.095],[255,.1],[278,.1],[310,.09],[95,.075],[108,.075],[122,.075],[138,.075],[152,.072],[168,.072],[182,.07],[200,.065],[220,.07],[240,.065],[262,.068],[282,.065],[305,.06],[328,.055],[350,.055],[88,.04],[102,.045],[115,.045],[130,.045],[148,.045],[162,.042],[178,.04],[192,.04],[208,.042],[225,.04],[245,.04],[265,.04],[285,.04],[305,.04],[325,.035],[345,.03],[380,.02],[400,.04],[68,.012],[82,.012],[97,.015],[112,.015],[127,.015],[142,.015],[157,.015],[172,.015],[187,.012],[203,.015],[218,.012],[232,.015],[250,.012],[270,.012],[290,.012],[310,.012],[330,.012]];
const pblDay7Zero=[48,52,58,64,70,76,82,88,94,100,106,112,118,124,130,136,142,148,154,160,166,172,178,184,190,196,202,208,214,220,226,232,238,244,250,256,262,268,274,280,290,300,312,324,336,348,360,372,384,396,408,420,432,444,456,468,480,492,504,516,528,540,555,580,600,612,625,640,673,718,735,746,775,907,926,1031];

const ventDay7=[[202,1.787],[123,1.425],[97,1.163],[123,1.025],[176,.956],[123,.931],[158,.931],[343,.931],[246,.892],[317,.856],[106,.85],[158,.865],[53,.823],[55,.8],[68,.8],[246,.76],[106,.744],[1293,.727],[290,.71],[290,.695],[325,.675],[272,.685],[106,.7],[106,.69],[185,.655],[106,.655],[959,.621],[246,.615],[1346,.567],[106,.59],[158,.575],[97,.573],[53,.552],[712,.552],[985,.54],[492,.504],[202,.53],[325,.51],[79,.494],[1029,.467],[325,.46],[4336,.435],[1442,.413],[668,.398],[1047,.38],[862,.377],[343,.38],[405,.37],[1372,.34],[712,.34],[800,.335],[1099,.323],[1513,.275],[1557,.25],[827,.28],[668,.27],[580,.262],[492,.262],[448,.235],[536,.225],[712,.235],[756,.205],[668,.205],[756,.185],[950,.175],[3685,.18],[2392,.17],[1196,.16],[1258,.148],[1539,.148],[1653,.12],[1706,.1],[1293,.1],[1372,.122],[3122,.106],[2586,.1],[2639,.08],[1864,.073],[1917,.065],[2190,.063],[1732,.052],[5796,.052],[6526,.02],[5119,.02],[3149,.03],[3465,.025],[7335,.01],[7291,.003],[950,.1],[1020,.09],[800,.12],[900,.09],[70,.43],[100,.42],[150,.44],[190,.43],[250,.43],[60,.38],[90,.4],[140,.39],[180,.36],[270,.37],[290,.385],[360,.385],[380,.38],[60,.35],[100,.35],[150,.33],[220,.34],[60,.31],[100,.3],[150,.295],[210,.32],[270,.3],[60,.27],[110,.28],[180,.29],[300,.27],[380,.28],[460,.28],[500,.26],[440,.27],[70,.24],[120,.25],[170,.24],[240,.24],[320,.245],[380,.235],[410,.22],[60,.2],[90,.2],[130,.21],[180,.2],[230,.195],[280,.2],[330,.18],[390,.19],[440,.18],[490,.15],[540,.14],[610,.14],[50,.17],[80,.17],[110,.17],[150,.18],[200,.16],[250,.15],[300,.16],[50,.14],[80,.14],[110,.15],[140,.15],[180,.14],[220,.13],[270,.13],[320,.13],[370,.12],[420,.11],[50,.12],[75,.12],[100,.125],[130,.12],[160,.12],[190,.115],[230,.105],[260,.1],[300,.1],[340,.09],[380,.1],[50,.1],[75,.1],[100,.1],[125,.1],[150,.1],[175,.1],[200,.09],[225,.085],[255,.085],[285,.08],[320,.07],[360,.07],[50,.075],[75,.08],[100,.08],[125,.08],[150,.08],[175,.08],[200,.07],[230,.065],[265,.065],[300,.055],[340,.05],[400,.06],[450,.07],[700,.05],[760,.06],[830,.07],[880,.05],[50,.055],[75,.06],[100,.06],[125,.06],[150,.06],[175,.06],[205,.05],[240,.05],[280,.04],[320,.04],[50,.035],[75,.04],[100,.04],[125,.04],[150,.04],[175,.04],[205,.03],[240,.035],[280,.025],[320,.025],[360,.03],[420,.03],[490,.03],[550,.03],[600,.03],[660,.03],[720,.03],[790,.03],[1000,.02],[1060,.02],[1200,.03],[1270,.035],[1430,.03],[1460,.02],[50,.02],[75,.02],[100,.02],[125,.02],[150,.02],[175,.02],[205,.015],[240,.015],[280,.012],[320,.012],[360,.015],[420,.015],[490,.012],[550,.012],[610,.012],[670,.012],[730,.012],[790,.012],[850,.012],[910,.015],[970,.012],[1030,.012],[1090,.012],[1150,.012],[1900,.02],[1950,.015],[2500,.012],[2650,.012],[3440,.012],[3690,.008],[4410,.004]];
const ventDay7Dense=[[35,.19],[65,.185],[95,.19],[125,.19],[160,.16],[35,.155],[65,.155],[95,.16],[125,.16],[165,.15],[210,.14],[35,.13],[62,.13],[88,.13],[115,.135],[145,.13],[175,.13],[205,.125],[35,.11],[62,.11],[88,.11],[112,.11],[138,.11],[165,.11],[190,.1],[215,.1],[240,.1],[35,.09],[62,.09],[88,.09],[112,.09],[138,.09],[165,.09],[190,.08],[215,.075],[35,.065],[62,.07],[88,.07],[112,.07],[138,.07],[165,.07],[190,.06],[220,.055],[255,.05],[35,.045],[62,.05],[88,.05],[112,.05],[138,.05],[165,.05],[190,.04],[220,.035],[260,.035],[35,.025],[62,.03],[88,.03],[112,.03],[138,.03],[165,.03],[190,.025],[220,.02],[260,.02],[300,.015],[340,.015],[395,.012]];
const ventDay7Zero=[30,55,80,105,130,155,180,205,230,255,280,305,330,355,380,405,430,455,480,505,530,555,580,610,640,670,700,730,760,790,820,850,880,910,940,970,1000,1030,1060,1090,1190,1230,1260,1300,1340,1380,1420,1460,1500,1550,1680,1720,1840,1900,1960,2020,2090,2380,2440,2500,2580,2760,2920,3000,3100,3420,3445,3922,4872,5040,5530,5963,10176,11002];

const tempDay7=[[8.14,1.787],[7.75,1.425],[.42,1.163],[8.95,1.025],[3.29,.956],[-2.31,.892],[-1.77,.931],[-.67,.931],[-.24,.931],[6.88,.871],[.42,.856],[3.91,.856],[4.42,.856],[3.87,.802],[4.84,.823],[-2.25,.796],[6.77,.76],[-.57,.744],[2.61,.727],[-.37,.7],[.01,.71],[1.2,.708],[-.71,.69],[-.91,.675],[4.6,.69],[9.19,.675],[10.01,.669],[-2.37,.642],[4.18,.658],[5.55,.65],[5.6,.62],[3.05,.615],[-.24,.594],[3.24,.573],[8.09,.58],[6.66,.567],[-.08,.552],[.54,.552],[4.02,.56],[4.84,.556],[5.33,.54],[6.42,.536],[2,.515],[2.46,.504],[8.95,.51],[6.44,.494],[3.56,.46],[8.06,.467],[5.9,.444],[2.85,.435],[3.58,.425],[3.6,.435],[3.95,.435],[6.33,.435],[6.57,.44],[5.24,.425],[5.62,.413],[.47,.425],[.14,.41],[3.56,.398],[3.6,.387],[3.56,.37],[6.49,.39],[7.82,.398],[8.81,.398],[2.62,.38],[4.1,.38],[-1.61,.377],[.95,.38],[1.1,.385],[4.53,.377],[12.18,.382],[5.37,.38],[5.55,.37],[5.4,.355],[8.09,.365],[8.34,.365],[1.71,.36],[1.33,.344],[5.84,.34],[5.98,.333],[6.15,.323],[6.57,.333],[6.85,.337],[7.07,.33],[7,.35],[7.39,.36],[2.54,.335],[2.54,.31],[2.6,.288],[4.73,.323],[5.06,.33],[5.54,.298],[5.44,.275],[3.05,.313],[2.8,.29],[3.42,.29],[-.79,.29],[4.11,.3],[4.4,.255],[3.45,.21],[9.79,.26],[10.33,.275],[7.82,.28],[7.7,.27],[6.9,.26],[7,.27],[8.42,.27],[8.6,.256],[8.54,.242],[8.27,.232],[-.08,.244],[1.12,.244],[2.18,.25],[3.16,.243],[5.24,.256],[.57,.229],[1.87,.229],[2.71,.223],[7.66,.227],[6.2,.237],[6.27,.232],[5.82,.217],[6.44,.223],[6.55,.204],[2.25,.195],[2.46,.192],[2.89,.203],[3.46,.21],[3.95,.18],[3.58,.18],[2.11,.18],[1,.18],[.61,.17],[-.08,.158],[.51,.142],[.92,.15],[1.05,.127],[7.75,.16],[9,.142],[-1.42,.137],[10.76,.12],[-1.02,.1],[-.71,.063],[-.75,.03],[-.75,.04],[9.66,.105],[9.79,.08],[10.3,.08],[10.57,.03],[12.42,.03],[-2.86,.025],[-2.37,.02],[-1.85,.018],[-4.16,.008],[-3.92,.005],[-3.61,.005],[-2.7,.005],[-2.31,.012],[-2.25,.006],[-2.17,.005],[-1.77,.025],[-1.42,.002],[-1.33,.004],[-1.15,.02],[-1.02,.002],[-.94,.01],[1.85,.14],[2.3,.19],[2.4,.13],[2.7,.13],[2.9,.14],[3.1,.12],[3.45,.14],[3.75,.13],[4.05,.12],[4.35,.16],[4.45,.17],[4.8,.15],[5,.155],[5.5,.16],[5.75,.13],[6,.12],[6.2,.11],[6.5,.16],[6.8,.14],[7.1,.17],[7.45,.15],[7.7,.1],[8.15,.12],[8.35,.09],[8.9,.08],[9.05,.06],[9.6,.03],[.42,.1],[.9,.08],[1.25,.07],[1.5,.09],[1.7,.1],[2.2,.08],[2.5,.09],[2.85,.1],[3.1,.08],[3.45,.07],[3.75,.09],[4,.11],[4.25,.09],[4.55,.11],[4.75,.1],[5.05,.11],[5.35,.11],[5.6,.09],[5.85,.1],[6.05,.08],[6.3,.09],[6.65,.09],[7.05,.09],[7.3,.1],[7.5,.08],[7.95,.09],[8.2,.06],[8.5,.07],[-.15,.05],[.15,.07],[.5,.05],[.7,.04],[1,.04],[1.4,.05],[1.7,.04],[1.9,.06],[2.3,.05],[2.65,.05],[2.95,.05],[3.2,.05],[3.55,.05],[3.9,.05],[4.15,.06],[4.45,.05],[4.7,.06],[4.95,.05],[5.2,.06],[5.5,.05],[5.75,.06],[6.1,.05],[6.4,.05],[6.6,.05],[6.9,.06],[7.2,.05],[7.45,.05],[7.75,.05],[8.05,.05],[8.35,.04],[8.6,.04],[8.9,.05],[9.2,.03],[9.4,.04],[.05,.02],[.3,.02],[.55,.02],[.8,.02],[1.05,.02],[1.3,.02],[1.55,.02],[1.8,.02],[2.05,.02],[2.3,.02],[2.55,.02],[2.8,.02],[3.05,.02],[3.3,.02],[3.55,.02],[3.8,.02],[4.05,.02],[4.3,.02],[4.55,.02],[4.8,.02],[5.05,.02],[5.3,.02],[5.55,.02],[5.8,.02],[6.05,.02],[6.3,.02],[6.55,.02],[6.8,.02],[7.05,.02],[7.3,.02],[7.55,.02],[7.8,.02],[8.05,.02],[8.3,.02],[8.55,.02],[8.8,.02],[9.05,.02],[9.3,.02],[9.9,.02],[10,.015],[10.8,.012],[11.2,.012],[11.3,.015],[13.1,.005]];
const tempDay7Dense=[[2.45,.1],[2.65,.11],[3.3,.1],[3.6,.11],[3.85,.125],[4.2,.13],[4.4,.1],[4.65,.13],[4.95,.12],[5.2,.11],[5.5,.12],[5.7,.11],[5.95,.1],[6.15,.09],[6.4,.1],[6.75,.11],[6.95,.1],[7.2,.09],[7.4,.07],[7.65,.08],[7.85,.07],[8.05,.07],[2.85,.07],[3.3,.07],[3.6,.07],[3.9,.08],[4.1,.08],[4.35,.07],[4.6,.08],[4.85,.08],[5.1,.08],[5.3,.08],[5.55,.07],[5.75,.08],[6,.07],[6.2,.07],[6.5,.07],[6.75,.07],[6.95,.07],[7.15,.07],[.25,.04],[.6,.035],[.85,.035],[1.15,.035],[1.55,.035],[1.8,.035],[2.1,.035],[2.4,.035],[2.75,.035],[3.05,.035],[3.35,.035],[3.65,.035],[3.95,.035],[4.25,.035],[4.55,.035],[4.85,.035],[5.1,.04],[5.4,.035],[5.65,.04],[5.95,.035],[6.25,.035],[6.5,.035],[6.8,.035],[7.1,.035],[7.35,.035],[7.6,.035],[7.9,.035],[8.2,.035],[8.5,.03],[8.75,.03],[9.05,.035],[9.3,.03],[9.5,.02],[9.65,.015],[.18,.008],[.68,.008],[1.18,.008],[1.68,.008],[2.18,.008],[2.68,.008],[3.18,.008],[3.68,.008],[4.18,.008],[4.68,.008],[5.18,.008],[5.68,.008],[6.18,.008],[6.68,.008],[7.18,.008],[7.68,.008],[8.18,.008],[8.68,.008]];
const tempDay7Zero=[-.28,-.2,-.1,0,.1,.2,.3,.4,.5,.6,.7,.8,.9,1,1.1,1.2,1.3,1.4,1.5,1.6,1.7,1.8,1.9,2,2.1,2.2,2.3,2.4,2.5,2.6,2.7,2.8,2.9,3,3.1,3.2,3.3,3.4,3.5,3.6,3.7,3.8,3.9,4,4.1,4.2,4.3,4.4,4.5,4.6,4.7,4.8,4.9,5,5.1,5.2,5.3,5.4,5.5,5.6,5.7,5.8,5.9,6,6.1,6.2,6.3,6.4,6.5,6.6,6.7,6.8,6.9,7,7.1,7.2,7.3,7.4,7.5,7.6,7.7,7.8,7.9,8,8.1,8.2,8.3,8.4,8.5,8.6,8.7,8.8,8.9,9,9.1,9.2,9.3,9.4,9.55,9.7,9.85,10,10.15,10.3,10.45,10.6,10.75,11.1,11.35,11.6,11.8,11.9,12.25,12.35,12.45,13.2,13.3,13.45];

const SVG_NS='http://www.w3.org/2000/svg';
const figure=document.getElementById('figure');
const MARKER_R=2, MARKER_COLOR='#1f77b4', TICK_LEN=5.3;

function linearScale(dMin,dMax,pMin,pMax){
  return function(v){return pMin+(v-dMin)/(dMax-dMin)*(pMax-pMin);};
}
function fmtThousands(v){return v>=10000?String(v).slice(0,-3)+'\u2009'+String(v).slice(-3):String(v);}
function fmtOne(v){return (v<0?'\u2212':'')+Math.abs(v).toFixed(1);}
function fmtTwo(v){return v.toFixed(2);}
function fmtPlain(v){return String(v);}

function make(tag,attrs,parent){
  const el=document.createElementNS(SVG_NS,tag);
  for(const k in attrs)el.setAttribute(k,attrs[k]);
  parent.appendChild(el);
  return el;
}

function drawPanel(p,r){
  const sx=linearScale(p.xMin,p.xMax,p.left,p.right);
  const sy=linearScale(r.yMin,r.yMax,r.bottom,r.top);
  const group=make('g',{},figure);
  
  

  const marks=make('g',{fill:MARKER_COLOR},group);
  
  
  const points=p.points[r.key].concat(p.dense[r.key],p.zeros[r.key].map(function(x){return [x,0];}));
  points.forEach(function(d){
    const c=make('circle',{cx:sx(d[0]).toFixed(2),cy:sy(d[1]).toFixed(2),r:MARKER_R},marks);
    
    
  });

  const frame=make('rect',{x:p.left,y:r.top,width:p.right-p.left,height:r.bottom-r.top,fill:'none',stroke:'#222','stroke-width':1.2},group);
  
  

  p.ticks.forEach(function(v){
    const x=sx(v);
    const tick=make('line',{x1:x,x2:x,y1:r.bottom,y2:r.bottom+TICK_LEN,stroke:'#222','stroke-width':1.1},group);
    
    
    const label=make('text',{x:x,y:r.bottom+22,'text-anchor':'middle','class':'tick'},group);
    
    
    label.textContent=p.fmt(v);
  });
  r.ticks.forEach(function(v){
    const y=sy(v);
    const tick=make('line',{x1:p.left-TICK_LEN,x2:p.left,y1:y,y2:y,stroke:'#222','stroke-width':1.1},group);
    
    
    const label=make('text',{x:p.left-10,y:y+5.8,'text-anchor':'end','class':'tick'},group);
    
    
    label.textContent=r.fmt(v);
  });
}

const rows=[
  {key:'day4',top:48.3,bottom:388,yMin:-0.442,yMax:9.356,ticks:day4Ticks,fmt:fmtPlain},
  {key:'day7',top:475.7,bottom:816,yMin:-0.0904,yMax:1.873,ticks:day7Ticks,fmt:fmtTwo}
];
const panels=[
  {key:'wind',left:67.5,right:525,xMin:-0.083,xMax:11.884,ticks:windTicks,fmt:fmtPlain,
   points:{day4:windDay4,day7:windDay7},dense:{day4:windDay4Dense,day7:windDay7Dense},zeros:{day4:windDay4Zero,day7:windDay7Zero}},
  {key:'pbl',left:579.3,right:1037,xMin:-26.9,xMax:1646.6,ticks:pblTicks,fmt:fmtPlain,
   points:{day4:pblDay4,day7:pblDay7},dense:{day4:pblDay4Dense,day7:pblDay7Dense},zeros:{day4:pblDay4Zero,day7:pblDay7Zero}},
  {key:'vent',left:1095.7,right:1553,xMin:-500.7,xMax:11565,ticks:ventTicks,fmt:fmtThousands,
   points:{day4:ventDay4,day7:ventDay7},dense:{day4:ventDay4Dense,day7:ventDay7Dense},zeros:{day4:ventDay4Zero,day7:ventDay7Zero}},
  {key:'temp',left:1607.3,right:2064.7,xMin:-5.058,xMax:14.38,ticks:tempTicks,fmt:fmtOne,
   points:{day4:tempDay4,day7:tempDay7},dense:{day4:tempDay4Dense,day7:tempDay7Dense},zeros:{day4:tempDay4Zero,day7:tempDay7Zero}}
];
panels.forEach(function(p){rows.forEach(function(r){drawPanel(p,r);});});
</script>
</body>
</html>
